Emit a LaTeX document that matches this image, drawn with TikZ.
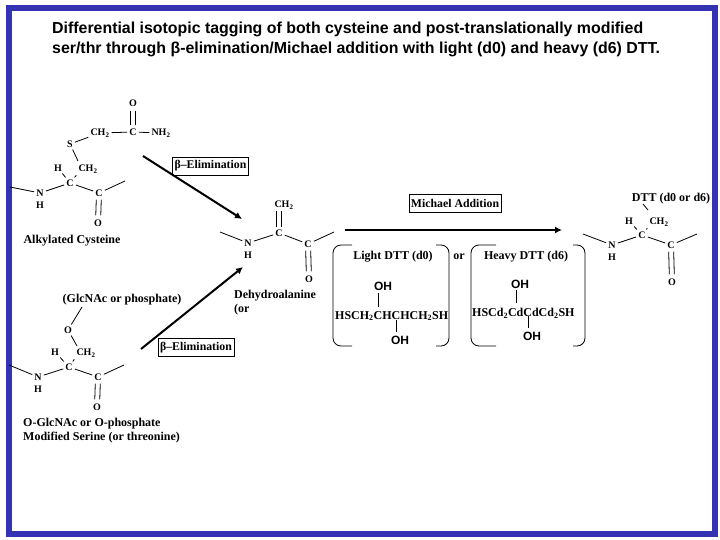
\documentclass[tikz,border=0pt]{standalone}
\usepackage{fontspec}
\setmainfont{Liberation Serif}
\setsansfont{Liberation Sans}
\usetikzlibrary{arrows.meta}
\definecolor{framecol}{RGB}{51,51,179}
\tikzset{
  chem/.style={font=\bfseries\fontsize{10}{10}\selectfont, inner sep=2pt},
  lab/.style={font=\bfseries\fontsize{12}{14}\selectfont, inner sep=0pt, align=left},
  dtt/.style={font=\bfseries\fontsize{12}{12}\selectfont, inner sep=1pt},
  oh/.style={font=\sffamily\bfseries\fontsize{12}{12}\selectfont, inner sep=1pt},
  tag/.style={draw, line width=.7pt, font=\bfseries\fontsize{11.8}{12}\selectfont, inner xsep=2pt, minimum height=18pt},
  bond/.style={line width=.8pt},
  dbl/.style={line width=.8pt, shorten >=2pt, shorten <=1pt},
  rxn/.style={line width=2pt, -{Latex[length=7pt,width=7pt]}},
  paren/.style={line width=.8pt, rounded corners=8pt},
}
\begin{document}
\begin{tikzpicture}[x=1pt,y=-1pt]
  \useasboundingbox (0,0) rectangle (720,540);

  % frame
  \fill[white] (0,0) rectangle (720,540);
  \draw[framecol, line width=6pt] (9,8) rectangle (714.5,534);

  % title
  \node[anchor=north west, align=left, inner sep=0pt, font=\sffamily\bfseries\fontsize{15.9}{20}\selectfont] (title) at (52,22)
    {Differential isotopic tagging of both cysteine and post-translationally modified\\
     ser/thr through β-elimination/Michael addition with light (d0) and heavy (d6) DTT.};

  % alkylated cysteine
  \node[chem] (aO) at (133,103) {O};
  \node[chem] (aCc) at (133,132) {C};
  \node[chem] (aCH) at (100,133) {CH\textsubscript{2}};
  \node[chem] (aNH) at (161,133) {NH\textsubscript{2}};
  \node[chem] (aS) at (70,144) {S};
  \node[chem] (aH) at (58,168) {H};
  \node[chem] (aCb) at (88,169) {CH\textsubscript{2}};
  \node[chem] (aC) at (70,183) {C};
  \node[chem] (aN) at (40,193) {N};
  \node[chem] (aNh) at (40,205) {H};
  \node[chem] (aCo) at (99,193) {C};
  \node[chem] (aOo) at (98,223) {O};
  \coordinate (aL) at (10,187);
  \coordinate (aR) at (125,181);
  \coordinate (aSb) at (78,161);
  \draw[dbl, transform canvas={xshift=-2.5pt}] (aCc) -- (aO);
  \draw[dbl, transform canvas={xshift=2.5pt}] (aCc) -- (aO);
  \draw[bond] (aCH) -- (aCc);
  \draw[bond] (aCc) -- (aNH);
  \draw[bond] (aS) -- (aCH);
  \draw[bond] (aS) -- (aSb);
  \draw[bond] (aH) -- (aC);
  \draw[bond] (aC) -- (aCb.south west);
  \draw[bond] (aC) -- (aN);
  \draw[bond] (aC) -- (aCo);
  \draw[bond] (aL) -- (aN);
  \draw[bond] (aCo) -- (aR);
  \draw[dbl, transform canvas={xshift=-2.5pt}] (aCo) -- (aOo);
  \draw[dbl, transform canvas={xshift=2.5pt}] (aCo) -- (aOo);
  \node[lab] (aName) at (72,241) {Alkylated Cysteine};

  % modified serine
  \node[lab] (sTop) at (122,300) {(GlcNAc or phosphate)};
  \node[chem] (sO) at (68,330) {O};
  \node[chem] (sH) at (55,352) {H};
  \node[chem] (sCb) at (86,353) {CH\textsubscript{2}};
  \node[chem] (sC) at (69,367) {C};
  \node[chem] (sN) at (38,377) {N};
  \node[chem] (sNh) at (38,389) {H};
  \node[chem] (sCo) at (98,377) {C};
  \node[chem] (sOo) at (97,407) {O};
  \coordinate (sL) at (9,365);
  \coordinate (sR) at (124,365);
  \coordinate (sTb) at (82,307);
  \coordinate (sOb) at (77,346);
  \draw[bond] (sTb) -- (sO);
  \draw[bond] (sO) -- (sOb);
  \draw[bond] (sH) -- (sC);
  \draw[bond] (sC) -- (sCb.south west);
  \draw[bond] (sC) -- (sN);
  \draw[bond] (sC) -- (sCo);
  \draw[bond] (sL) -- (sN);
  \draw[bond] (sCo) -- (sR);
  \draw[dbl, transform canvas={xshift=-2.5pt}] (sCo) -- (sOo);
  \draw[dbl, transform canvas={xshift=2.5pt}] (sCo) -- (sOo);
  \node[lab, anchor=north west] (sName) at (23,418) {O-GlcNAc or O-phosphate\\Modified Serine (or threonine)};

  % dehydroalanine
  \node[chem] (dCH) at (284,205) {CH\textsubscript{2}};
  \node[chem] (dC) at (279,233) {C};
  \node[chem] (dN) at (248,243) {N};
  \node[chem] (dNh) at (248,255) {H};
  \node[chem] (dCo) at (308,244) {C};
  \node[chem] (dOo) at (309,279) {O};
  \coordinate (dL) at (220,232);
  \coordinate (dR) at (334,232);
  \draw[bond, transform canvas={xshift=-2.5pt}] (dC.north) -- (dC.north |- dCH.south);
  \draw[bond, transform canvas={xshift=2.5pt}] (dC.north) -- (dC.north |- dCH.south);
  \draw[bond] (dC) -- (dN);
  \draw[bond] (dC) -- (dCo);
  \draw[bond] (dL) -- (dN);
  \draw[bond] (dCo) -- (dR);
  \draw[dbl, transform canvas={xshift=-2.5pt}] (dCo) -- (dOo);
  \draw[dbl, transform canvas={xshift=2.5pt}] (dCo) -- (dOo);
  \node[lab, anchor=north west] (dName) at (234,290) {Dehydroalanine\\(or};

  % reactions
  \coordinate (r1a) at (143,156);
  \coordinate (r1b) at (242,219);
  \coordinate (r2a) at (141,349);
  \coordinate (r2b) at (243,267);
  \coordinate (r3a) at (345,230);
  \coordinate (r3b) at (562,230);
  \draw[rxn] (r1a) -- (r1b);
  \draw[rxn] (r2a) -- (r2b);
  \draw[rxn] (r3a) -- (r3b);
  \node[tag] (e1) at (210.5,166) {β--Elimination};
  \node[tag] (e2) at (196,347.5) {β--Elimination};
  \node[tag] (ma) at (455,203.5) {Michael Addition};

  % light dtt
  \node[dtt] (lName) at (393,257) {Light DTT (d0)};
  \node[oh] (lO1) at (383,286) {OH};
  \node[dtt, anchor=west] (lF) at (334,316) {HSCH\textsubscript{2}CHCHCH\textsubscript{2}SH};
  \node[oh] (lO2) at (400,340) {OH};
  \coordinate (lb1a) at (378,293);
  \coordinate (lb1b) at (378,307);
  \coordinate (lb2a) at (396,320);
  \coordinate (lb2b) at (396,332);
  \draw[bond] (lb1a) -- (lb1b);
  \draw[bond] (lb2a) -- (lb2b);
  \draw[paren] (352,245) -- (333,245) -- (333,346) -- (352,346);
  \draw[paren] (436,245) -- (449,245) -- (449,346) -- (436,346);
  \node[dtt] (orN) at (459,257) {or};

  % heavy dtt
  \node[dtt] (hName) at (526,257) {Heavy DTT (d6)};
  \node[oh] (hO1) at (520,284) {OH};
  \node[dtt, anchor=west] (hF) at (471,313) {HSCd\textsubscript{2}CdCdCd\textsubscript{2}SH};
  \node[oh] (hO2) at (532,336) {OH};
  \coordinate (hb1a) at (516,290);
  \coordinate (hb1b) at (516,303);
  \coordinate (hb2a) at (528,316);
  \coordinate (hb2b) at (528,328);
  \draw[bond] (hb1a) -- (hb1b);
  \draw[bond] (hb2a) -- (hb2b);
  \draw[paren] (496,245) -- (471,245) -- (471,346) -- (496,346);
  \draw[paren] (573,245) -- (585,245) -- (585,346) -- (573,346);

  % product
  \node[dtt] (pName) at (671,199) {DTT (d0 or d6)};
  \node[chem] (pH) at (629,221) {H};
  \node[chem] (pCb) at (659,222) {CH\textsubscript{2}};
  \node[chem] (pC) at (642,235) {C};
  \node[chem] (pN) at (612,245) {N};
  \node[chem] (pNh) at (612,257) {H};
  \node[chem] (pCo) at (671,245) {C};
  \node[chem] (pOo) at (672,282) {O};
  \coordinate (pL) at (583,234);
  \coordinate (pR) at (697,234);
  \coordinate (pb) at (648,210);
  \coordinate (pt) at (643,204);
  \draw[bond] (pt) -- (pb);
  \draw[bond] (pH) -- (pC);
  \draw[bond] (pC) -- (pCb.south west);
  \draw[bond] (pC) -- (pN);
  \draw[bond] (pC) -- (pCo);
  \draw[bond] (pL) -- (pN);
  \draw[bond] (pCo) -- (pR);
  \draw[dbl, transform canvas={xshift=-2.5pt}] (pCo) -- (pOo);
  \draw[dbl, transform canvas={xshift=2.5pt}] (pCo) -- (pOo);
\end{tikzpicture}
\end{document}
